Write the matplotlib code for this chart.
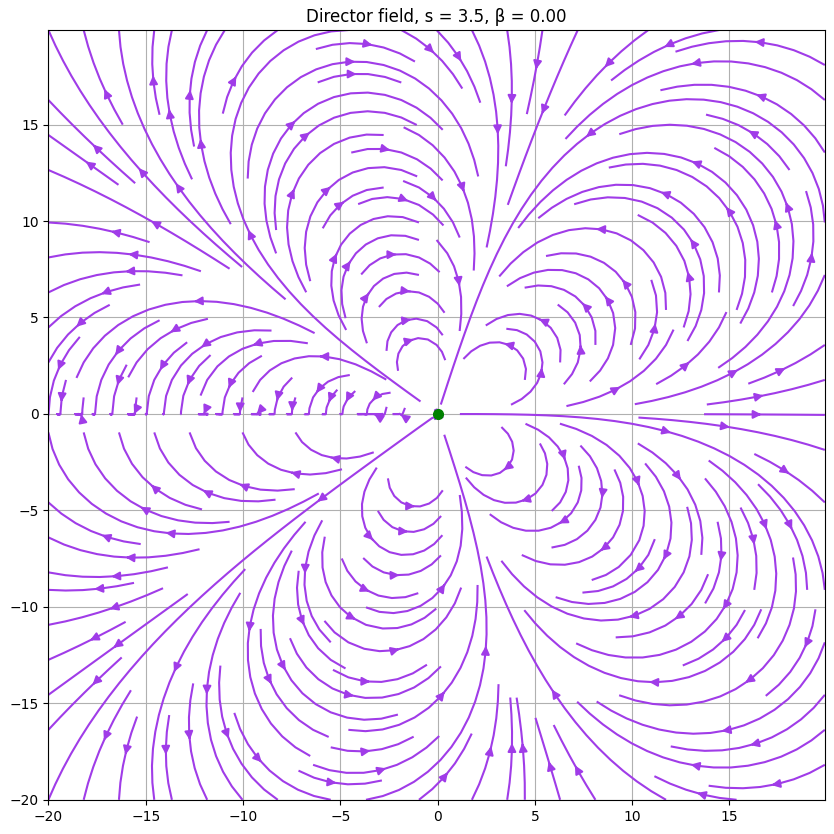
import numpy as np
import matplotlib.pyplot as plt

s = 3.5
beta = 0.0
lim = 20
step = 0.1

xs = np.arange(-lim, lim, step)
ys = np.arange(-lim, lim, step)
X, Y = np.meshgrid(xs, ys)
phi = np.arctan2(Y, X)
theta = s * phi + beta
U = np.cos(theta)
V = np.sin(theta)

fig, ax = plt.subplots(figsize=(8.34, 8.34), dpi=100)
ax.streamplot(X, Y, U, V, color='#A03CE8', density=1.5, linewidth=1.5, arrowsize=1.2)
ax.plot(0, 0, 'o', color='green', markersize=7)
ax.set_xlim(xs[0], xs[-1])
ax.set_ylim(ys[0], ys[-1])
ax.grid(True)
ax.set_title("Director field, s = %.1f, \u03b2 = %.2f" % (s, beta))
plt.subplots_adjust(left=0.058, right=0.989, top=0.964, bottom=0.041)
plt.savefig("out.png")
